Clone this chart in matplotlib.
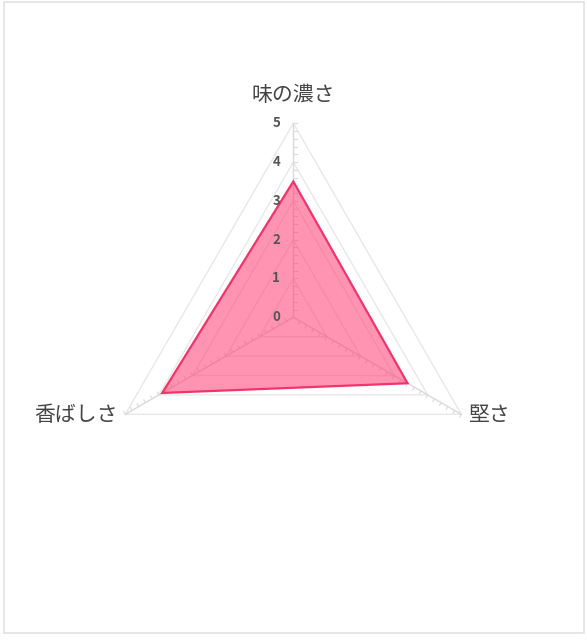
import matplotlib.pyplot as plt
import numpy as np
from matplotlib.patches import Polygon, Rectangle

plt.rcParams['font.family'] = ['Noto Sans CJK JP', 'DejaVu Sans']

labels = ['味の濃さ', '堅さ', '香ばしさ']
values = [3.5, 3.4, 3.9]
ticks = [0, 1, 2, 3, 4, 5]
r_max = 5

fill_color = (1.0, 0.24, 0.45, 0.55)
line_color = '#f2336c'
grid_color = '#e8e8e8'
spoke_color = '#dadada'
text_color = '#454545'

# px per unit and center position in the 587x640 figure
unit = 38.8
cx, cy = 293.3, 640 - 317.3
W, H = 587, 640

fig = plt.figure(figsize=(W / 100, H / 100), dpi=100)
ax = fig.add_axes([0, 0, 1, 1])
ax.set_xlim(-cx / unit, (W - cx) / unit)
ax.set_ylim(-cy / unit, (H - cy) / unit)
ax.axis('off')

# axis directions, clockwise from the top
angles = np.deg2rad(90 - np.arange(len(labels)) * 360 / len(labels))
dirs = np.column_stack([np.cos(angles), np.sin(angles)])


def to_xy(vals):
    return dirs * np.asarray(vals)[:, None]


# grid triangles
for t in ticks[1:]:
    pts = to_xy([t] * len(labels))
    ax.add_patch(Polygon(pts, closed=True, fill=False, edgecolor=grid_color, lw=1, zorder=1))

# spokes with small ticks every 0.2
tick_len = 3.2 / unit
for d in dirs:
    ax.plot([0, d[0] * r_max], [0, d[1] * r_max], color=spoke_color, lw=1, zorder=1)
    perp = np.array([d[1], -d[0]])
    for s in np.arange(0.2, r_max + 0.01, 0.2):
        p = d * s
        ax.plot([p[0], p[0] + perp[0] * tick_len], [p[1], p[1] + perp[1] * tick_len],
                color=spoke_color, lw=0.8, zorder=1)

# data polygon
ax.add_patch(Polygon(to_xy(values), closed=True, facecolor=fill_color,
                     edgecolor=line_color, lw=1.6, zorder=3))

# radial tick labels
for t in ticks:
    ax.text(-17 / unit, t, str(t), ha='center', va='center', fontsize=9.5,
            fontweight='bold', color='#555555', zorder=4)

# point labels
ax.text(0, r_max + 0.72, labels[0], ha='center', va='center', fontsize=15, color=text_color)
p = dirs[1] * r_max
ax.text(p[0] + 0.17, p[1] - 0.03, labels[1], ha='left', va='center', fontsize=15, color=text_color)
p = dirs[2] * r_max
ax.text(p[0] - 0.19, p[1] - 0.03, labels[2], ha='right', va='center', fontsize=15, color=text_color)

# light frame around the canvas
fig.patches.append(Rectangle((3.5 / W, 1 - 632.5 / H), 580 / W, 631 / H, transform=fig.transFigure,
                             fill=False, edgecolor='#e2e2e2', lw=1.2))

fig.savefig('out.png', dpi=100)
